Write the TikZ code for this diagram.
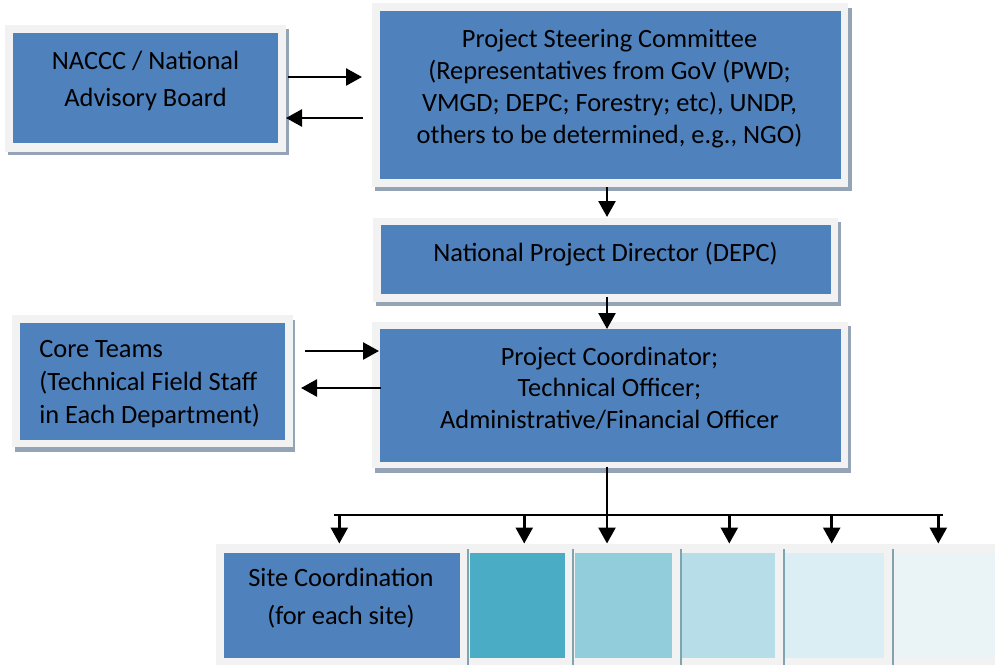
\documentclass[tikz,border=0pt]{standalone}
\usepackage{fontspec}
\setmainfont{Carlito}
\usetikzlibrary{arrows.meta}

\definecolor{boxblue}{HTML}{4F81BD}
\definecolor{framegray}{HTML}{F2F2F2}
\definecolor{shadowgray}{HTML}{95A3B7}
\definecolor{sepline}{HTML}{7FA3AF}
\definecolor{siteA}{HTML}{4BACC6}
\definecolor{siteB}{HTML}{92CDDC}
\definecolor{siteC}{HTML}{B7DDE8}
\definecolor{siteD}{HTML}{DBEEF3}
\definecolor{siteE}{HTML}{EAF4F7}

% stacked lines whose reference point is the first baseline
\newcommand\clines[1]{\vtop{\halign{\hfil##\hfil\cr#1\crcr}}}
\newcommand\llines[1]{\vtop{\halign{##\hfil\cr#1\crcr}}}

\begin{document}
\begin{tikzpicture}[x=1pt,y=-1pt,
  panel/.style={fill=boxblue, inner sep=0pt, outer sep=0pt},
  tile/.style={inner sep=0pt, outer sep=0pt, minimum height=105.5pt},
  txt/.style={inner sep=0pt, outer sep=0pt, text=black},
  body/.style={font=\fontsize{26.4pt}{#1}\selectfont},
  arr/.style={line width=2.6pt, -{Triangle[width=17pt,length=16pt]}},
  wire/.style={line width=2.4pt}]

\useasboundingbox (0,0) rectangle (995,665);
\fill[white] (0,0) rectangle (995,665);

% frames with their shadows
\fill[shadowgray] (8,29) rectangle (288.5,155);
\fill[framegray] (5,25) rectangle (286,152);
\fill[shadowgray] (375,8) rectangle (851.5,191);
\fill[framegray] (371.7,3.3) rectangle (848,186.7);
\fill[shadowgray] (376,222) rectangle (841,306);
\fill[framegray] (373.3,217.7) rectangle (838.3,301.7);
\fill[shadowgray] (375,326) rectangle (851,473);
\fill[framegray] (371.7,321.7) rectangle (848.3,468.3);
\fill[shadowgray] (14.5,320) rectangle (295,452);
\fill[framegray] (11.7,315) rectangle (292.7,446.7);
\fill[framegray] (216,544) rectangle (995,665);

% blue panels
\node[panel, minimum width=265pt, minimum height=110pt] (nac) at (145.5,88) {};
\node[panel, minimum width=461pt, minimum height=167.5pt] (psc) at (610,94.75) {};
\node[panel, minimum width=450pt, minimum height=68.5pt] (npd) at (606,259.25) {};
\node[panel, minimum width=461pt, minimum height=132.5pt] (pc) at (610,395.25) {};
\node[panel, minimum width=265.5pt, minimum height=116.5pt] (core) at (152.25,381.25) {};

% site row
\node[panel, tile, minimum width=236pt] (site) at (341.5,605.25) {};
\node[tile, fill=siteA, minimum width=94.5pt] (s2) at (517.25,605.25) {};
\node[tile, fill=siteB, minimum width=97pt] (s3) at (623.5,605.25) {};
\node[tile, fill=siteC, minimum width=93pt] (s4) at (728.5,605.25) {};
\node[tile, fill=siteD, minimum width=99pt] (s5) at (834.5,605.25) {};
\node[tile, fill=siteE, minimum width=100pt] (s6) at (945,605.25) {};
\foreach \sx in {467.3,572.3,679.8,783.1,892.3}
  \fill[sepline] (\sx,549) rectangle (\sx+2,665);

% texts
\node[txt, body=37pt, anchor=base] (nac-t) at (145.5,69.5)
  {\clines{NACCC / National\cr Advisory Board}};
\node[txt, body=31.9pt, anchor=base] (psc-t) at (609.5,47.7)
  {\clines{Project Steering Committee\cr
   (Representatives from GoV (PWD;\cr
   VMGD; DEPC; Forestry; etc), UNDP,\cr
   others to be determined, e.g., NGO)}};
\node[txt, body=32pt, anchor=base] (npd-t) at (605.5,261.7)
  {National Project Director (DEPC)};
\node[txt, body=31.7pt, anchor=base] (pc-t) at (609.5,365)
  {\clines{Project Coordinator;\cr Technical Officer;\cr
   Administrative/Financial Officer}};
\node[txt, body=32.8pt, anchor=base west] (core-t) at (39.3,357.7)
  {\llines{Core Teams\cr (Technical Field Staff\cr in Each Department)}};
\node[txt, body=37.6pt, anchor=base] (site-t) at (341,586.7)
  {\clines{Site Coordination\cr (for each site)}};

% connectors
\draw[arr] ([xshift=10pt,yshift=11pt]nac.east) -- ([xshift=-17.5pt,yshift=17.75pt]psc.west);
\draw[arr] ([xshift=-16.5pt,yshift=-23.25pt]psc.west) -- ([xshift=8pt,yshift=-30pt]nac.east);
\draw[arr] ([xshift=-3pt,yshift=-8.5pt]psc.south) -- ([xshift=1pt,yshift=8pt]npd.north);
\draw[arr] ([xshift=1pt,yshift=-3.5pt]npd.south) -- ([xshift=-3pt]pc.north);
\draw[arr] ([xshift=20pt,yshift=30.25pt]core.east) -- ([xshift=-0.5pt,yshift=44.25pt]pc.west);
\draw[arr] ([xshift=1.5pt,yshift=7.25pt]pc.west) -- ([xshift=16pt,yshift=-6.75pt]core.east);

% distribution bar to the sites
\coordinate (busL) at (334,515);
\coordinate (busR) at (943,515);
\coordinate (d1) at ([xshift=-2.2pt,yshift=9pt]site.north);
\coordinate (d2) at ([xshift=7pt,yshift=9pt]s2.north);
\coordinate (d3) at ([xshift=-16.5pt,yshift=9pt]s3.north);
\coordinate (d4) at ([xshift=0.8pt,yshift=9pt]s4.north);
\coordinate (d5) at ([xshift=-2.8pt,yshift=9pt]s5.north);
\coordinate (d6) at ([xshift=-6.7pt,yshift=9pt]s6.north);
\draw[wire] (busL) -- (busR);
\draw[arr] ([xshift=-3pt,yshift=-5pt]pc.south) -- (d3);
\foreach \d in {d1,d2,d4,d5,d6}
  \draw[arr] (\d |- busL) -- (\d);
\end{tikzpicture}
\end{document}
